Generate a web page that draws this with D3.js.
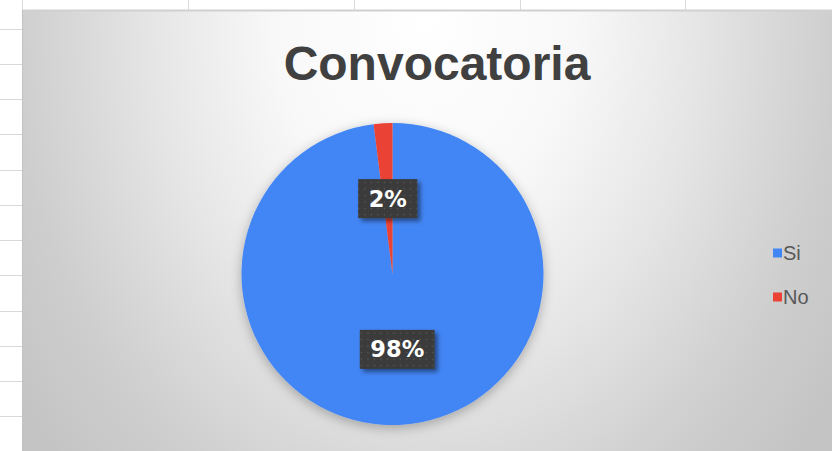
<!DOCTYPE html>
<html>
<head>
<meta charset="utf-8">
<script src="https://cdn.jsdelivr.net/npm/d3@7/dist/d3.min.js"></script>
<style>
  html, body { margin: 0; padding: 0; background: #fff; }
  svg { display: block; }
</style>
</head>
<body>
<svg id="chart" width="832" height="451"></svg>
<script>
// Survey answers for "Convocatoria"
const categories = ["Si", "No"];
const values = [98, 2];
const colors = ["#4285f4", "#ea4335"];
const title = "Convocatoria";

const W = 832, H = 451;
const svg = d3.select("#chart");
const defs = svg.append("defs");

// Spreadsheet grid behind the chart object
const grid = svg.append("g").attr("stroke", "#d9d9d9").attr("stroke-width", 1);
[29, 64, 99, 134, 170, 205, 240, 275, 311, 346, 381, 416].forEach(y => {
  grid.append("line").attr("x1", 0).attr("x2", 22).attr("y1", y + 0.5).attr("y2", y + 0.5);
});
[22, 188, 354, 520, 685].forEach(x => {
  grid.append("line").attr("x1", x + 0.5).attr("x2", x + 0.5).attr("y1", 0).attr("y2", 11);
});

// Chart area background: soft radial gradient, light at top centre
const bg = defs.append("radialGradient")
  .attr("id", "bgGrad")
  .attr("gradientUnits", "userSpaceOnUse")
  .attr("cx", 425).attr("cy", 20).attr("r", 500)
  .attr("gradientTransform", "translate(425,20) scale(1,1.3) translate(-425,-20)");
[[0, "#ffffff"], [0.3, "#f8f8f8"], [0.54, "#e6e6e6"], [0.7, "#d8d8d8"], [0.82, "#cecece"], [1, "#c4c4c4"]]
  .forEach(([o, c]) => bg.append("stop").attr("offset", o).attr("stop-color", c));

const chartX = 22, chartY = 10;
svg.append("rect")
  .attr("x", chartX).attr("y", chartY)
  .attr("width", W - chartX + 5).attr("height", H - chartY + 5)
  .attr("fill", "url(#bgGrad)");
svg.append("line")
  .attr("x1", chartX).attr("x2", W).attr("y1", chartY + 0.5).attr("y2", chartY + 0.5)
  .attr("stroke", "#d0d0d0").attr("stroke-width", 2);
svg.append("line")
  .attr("x1", chartX + 0.5).attr("x2", chartX + 0.5).attr("y1", chartY).attr("y2", H)
  .attr("stroke", "#c2c2c2").attr("stroke-width", 1);

// Title
svg.append("text")
  .attr("x", 437).attr("y", 80)
  .attr("text-anchor", "middle")
  .attr("font-family", "Liberation Sans, Arial, sans-serif")
  .attr("font-weight", "bold")
  .attr("font-size", 48)
  .attr("fill", "#404040")
  .text(title);

// Filters: soft shadow under the pie and under the data labels
const pieShadow = defs.append("filter").attr("id", "pieShadow")
  .attr("x", "-20%").attr("y", "-20%").attr("width", "140%").attr("height", "140%");
pieShadow.append("feDropShadow")
  .attr("dx", 0).attr("dy", 3).attr("stdDeviation", 6)
  .attr("flood-color", "#000").attr("flood-opacity", 0.28);

const labelShadow = defs.append("filter").attr("id", "labelShadow")
  .attr("x", "-30%").attr("y", "-30%").attr("width", "160%").attr("height", "160%");
labelShadow.append("feDropShadow")
  .attr("dx", 3).attr("dy", 3).attr("stdDeviation", 2)
  .attr("flood-color", "#000").attr("flood-opacity", 0.45);

// Dotted texture for the label boxes
const dots = defs.append("pattern").attr("id", "dots")
  .attr("patternUnits", "userSpaceOnUse").attr("width", 6.5).attr("height", 6.5);
dots.append("rect").attr("width", 6.5).attr("height", 6.5).attr("fill", "#3b3b3b");
dots.append("circle").attr("cx", 3.2).attr("cy", 3.2).attr("r", 0.75).attr("fill", "#5c5c5c");

// Pie
const cx = 392.5, cy = 274, R = 151;
const pie = d3.pie().sort(null).value(d => d.value);
const arcs = pie(categories.map((c, i) => ({ name: c, value: values[i], color: colors[i] })));
const arc = d3.arc().innerRadius(0).outerRadius(R);

const pieG = svg.append("g").attr("transform", `translate(${cx},${cy})`);
pieG.append("g").attr("filter", "url(#pieShadow)")
  .selectAll("path").data(arcs).join("path")
  .attr("d", arc)
  .attr("fill", d => d.data.color);

// Data labels at slice centroids
const total = d3.sum(values);
const fmt = d3.format(".0%");
const lab = pieG.selectAll("g.lab").data(arcs).join("g")
  .attr("class", "lab")
  .attr("transform", d => `translate(${arc.centroid(d)})`);
lab.each(function (d) {
  const g = d3.select(this);
  const txt = fmt(d.data.value / total);
  const t = g.append("text")
    .attr("text-anchor", "middle")
    .attr("dy", "0.36em")
    .attr("font-family", "DejaVu Sans, sans-serif")
    .attr("font-weight", "bold")
    .attr("font-size", 22.5)
    .attr("fill", "#ffffff")
    .text(txt);
  const bb = t.node().getBBox();
  const w = bb.width + 21, h = 39;
  g.insert("rect", "text")
    .attr("x", -w / 2).attr("y", -h / 2)
    .attr("width", w).attr("height", h)
    .attr("fill", "url(#dots)")
    .attr("filter", "url(#labelShadow)");
});

// Legend
const legend = svg.append("g").attr("transform", "translate(773,253)");
const item = legend.selectAll("g").data(categories).join("g")
  .attr("transform", (d, i) => `translate(0,${i * 44})`);
item.append("rect")
  .attr("x", 0).attr("y", -4.5).attr("width", 9).attr("height", 9)
  .attr("fill", (d, i) => colors[i]);
item.append("text")
  .attr("x", 10).attr("y", 0).attr("dy", "0.35em")
  .attr("font-family", "Liberation Sans, Arial, sans-serif")
  .attr("font-size", 20)
  .attr("fill", "#595959")
  .text(d => d);
</script>
</body>
</html>
